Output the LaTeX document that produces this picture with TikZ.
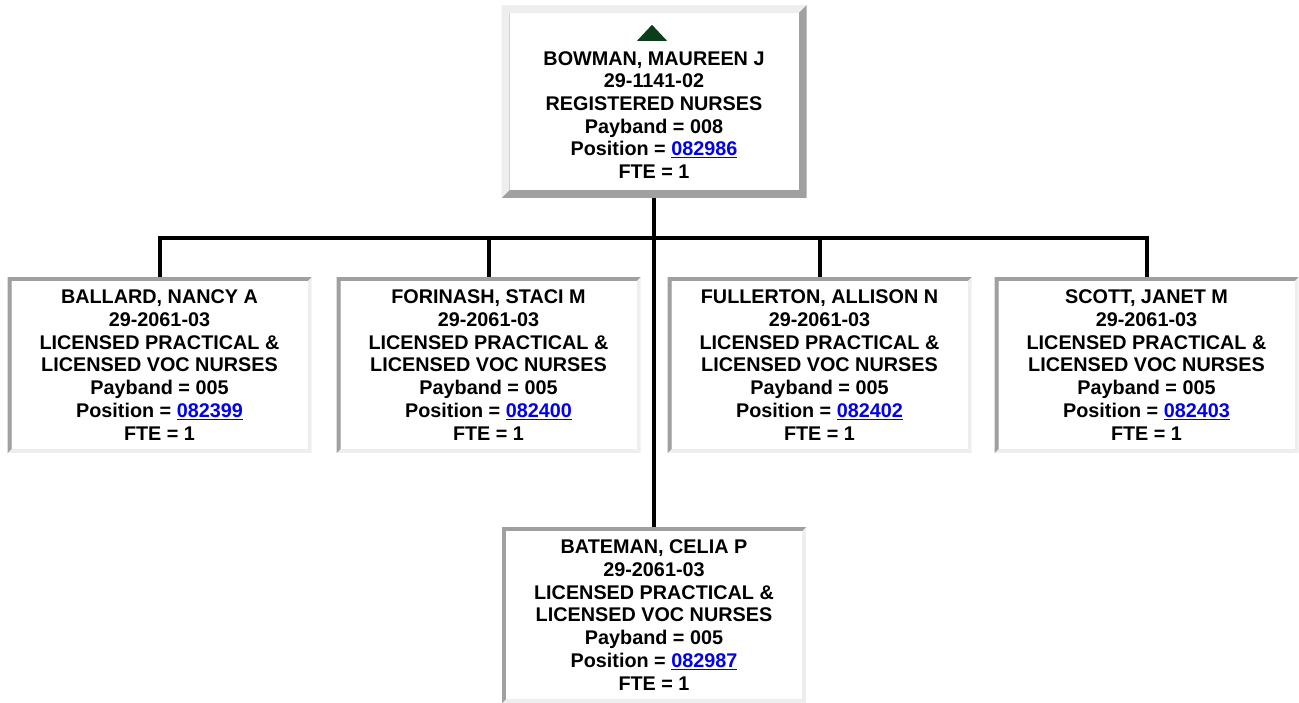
\documentclass[tikz,border=0pt]{standalone}
\usepackage{fontspec}
\setmainfont{Liberation Sans}
\usepackage{tikz}
\usetikzlibrary{positioning,calc}
\definecolor{EdgeDark}{HTML}{A0A0A0}
\definecolor{EdgeLight}{HTML}{EEEEEE}
\definecolor{LinkBlue}{HTML}{0000EE}
\definecolor{MarkGreen}{HTML}{0B3D1B}
\newcommand{\poslink}[1]{\textcolor{LinkBlue}{\underline{#1}}}
\tikzset{
    % Bevelled boxes: #1 top/left edge, #2 bottom/right edge, #3 edge width
    card/.style n args={3}{
        rectangle,
        inner sep=0pt,
        align=center,
        text=black,
        font=\fontsize{19.8}{22.7}\selectfont\bfseries,
        path picture={
            \fill[#2] (path picture bounding box.south west) rectangle (path picture bounding box.north east);
            \fill[#1] (path picture bounding box.south west) -- (path picture bounding box.north west)
                -- (path picture bounding box.north east)
                -- ([xshift=-#3,yshift=-#3]path picture bounding box.north east)
                -- ([xshift=#3,yshift=-#3]path picture bounding box.north west)
                -- ([xshift=#3,yshift=#3]path picture bounding box.south west) -- cycle;
            \fill[white] ([xshift=#3,yshift=#3]path picture bounding box.south west)
                rectangle ([xshift=-#3,yshift=-#3]path picture bounding box.north east);
        }
    },
    boss card/.style={
        card={EdgeLight}{EdgeDark}{8pt},
        minimum width=305pt,
        minimum height=193pt
    },
    staff card/.style={
        card={EdgeDark}{EdgeLight}{4pt},
        minimum width=304pt,
        minimum height=176pt
    },
    link/.style={
        draw=black,
        line width=4pt
    }
}

\begin{document}
\begin{tikzpicture}[x=1pt, y=-1pt]
        \useasboundingbox (0,0) rectangle (1299,702);

        % Nodes
        \node[boss card] (boss) at (654,101.5) {\rule{0pt}{18pt}\\BOWMAN, MAUREEN J\\29-1141-02\\REGISTERED NURSES\\Payband = 008\\Position = \poslink{082986}\\FTE = 1};
        \node[staff card] (ballard) at (159.5,365) {BALLARD, NANCY A\\29-2061-03\\LICENSED PRACTICAL \&\\LICENSED VOC NURSES\\Payband = 005\\Position = \poslink{082399}\\FTE = 1};
        \node[staff card] (forinash) at (488.5,365) {FORINASH, STACI M\\29-2061-03\\LICENSED PRACTICAL \&\\LICENSED VOC NURSES\\Payband = 005\\Position = \poslink{082400}\\FTE = 1};
        \node[staff card] (fullerton) at (819.5,365) {FULLERTON, ALLISON N\\29-2061-03\\LICENSED PRACTICAL \&\\LICENSED VOC NURSES\\Payband = 005\\Position = \poslink{082402}\\FTE = 1};
        \node[staff card] (scott) at (1146.5,365) {SCOTT, JANET M\\29-2061-03\\LICENSED PRACTICAL \&\\LICENSED VOC NURSES\\Payband = 005\\Position = \poslink{082403}\\FTE = 1};
        \node[staff card] (bateman) at (654,615) {BATEMAN, CELIA P\\29-2061-03\\LICENSED PRACTICAL \&\\LICENSED VOC NURSES\\Payband = 005\\Position = \poslink{082987}\\FTE = 1};

        % Up marker
        \fill[MarkGreen] ([xshift=-2pt,yshift=-20pt]boss.north) -- ++(15,16) -- ++(-30,0) -- cycle;

        % Connectors
        \coordinate (bus) at (654,238);
        \draw[link] (boss) -- (bateman);
        \draw[link] (ballard.north) |- (scott.north |- bus) -- (scott.north);
        \draw[link] (forinash.north) -- (forinash.north |- bus);
        \draw[link] (fullerton.north) -- (fullerton.north |- bus);
    \end{tikzpicture}
\end{document}
